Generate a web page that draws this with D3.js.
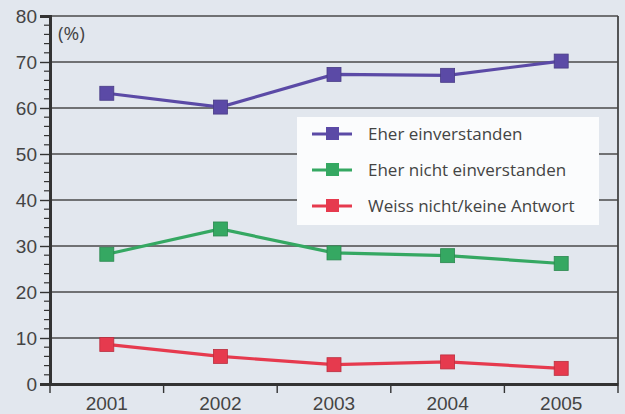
<!DOCTYPE html>
<html>
<head>
<meta charset="utf-8">
<script src="https://cdn.jsdelivr.net/npm/d3@7"></script>
<style>
  body { margin: 0; background: #e2e7ee; }
  svg { display: block; font-family: "Open Sans", "DejaVu Sans", sans-serif; }
</style>
</head>
<body>
<svg></svg>
<script>
var width = 625;
var height = 414;

var years = ["2001", "2002", "2003", "2004", "2005"];
var agree = [63.2, 60.2, 67.3, 67.1, 70.2];
var disagree = [28.2, 33.7, 28.5, 27.9, 26.2];
var dontKnow = [8.6, 6.0, 4.2, 4.8, 3.4];
var seriesNames = ["Eher einverstanden", "Eher nicht einverstanden", "Weiss nicht/keine Antwort"];
var seriesColors = ["#5b4aa6", "#35a862", "#e63a4e"];
var yTicks = [0, 10, 20, 30, 40, 50, 60, 70, 80];

var margin = { left: 50, right: 7, top: 16, bottom: 30 };

var svg = d3.select("svg")
  .attr("width", width)
  .attr("height", height);

var x = d3.scaleBand()
  .domain(years)
  .range([margin.left, width - margin.right]);

var y = d3.scaleLinear()
  .domain([0, 80])
  .range([height - margin.bottom, margin.top]);

var g = svg.append("g");

// grid lines
g.selectAll(".grid")
  .data(yTicks.filter(function (d) { return d > 0; }))
  .enter().append("line")
  .attr("x1", margin.left)
  .attr("x2", width - margin.right)
  .attr("y1", function (d) { return y(d); })
  .attr("y2", function (d) { return y(d); })
  .attr("stroke", "#4a4a4a")
  .attr("stroke-width", 1.3);

// right border
g.append("line")
  .attr("x1", width - margin.right).attr("x2", width - margin.right)
  .attr("y1", margin.top).attr("y2", y(0))
  .attr("stroke", "#444").attr("stroke-width", 1.8);

// minor ticks
var minor = d3.range(0, 81, 2).filter(function (d) { return d % 10 != 0; });
g.selectAll(".minor")
  .data(minor)
  .enter().append("line")
  .attr("x1", margin.left - 6)
  .attr("x2", margin.left)
  .attr("y1", function (d) { return y(d); })
  .attr("y2", function (d) { return y(d); })
  .attr("stroke", "#333")
  .attr("stroke-width", 1.2);

// y axis
var yAxis = g.append("g")
  .attr("transform", "translate(" + margin.left + ",0)")
  .call(d3.axisLeft(y).tickValues(yTicks).tickSize(10).tickPadding(3));
yAxis.select(".domain").attr("stroke", "#333").attr("stroke-width", 3);
yAxis.selectAll(".tick line").attr("stroke", "#333").attr("stroke-width", 1.4);
yAxis.selectAll("text").attr("fill", "#444").style("font-size", "19px");

// x axis
var xAxis = g.append("g")
  .attr("transform", "translate(0," + y(0) + ")")
  .call(d3.axisBottom(x).tickSize(0).tickPadding(13));
xAxis.select(".domain").attr("stroke", "#333").attr("stroke-width", 3);
xAxis.selectAll("text").attr("fill", "#444").style("font-size", "19px");

var bounds = years.map(function (d) { return x(d); }).concat([width - margin.right]);
g.selectAll(".xtick")
  .data(bounds)
  .enter().append("line")
  .attr("x1", function (d) { return d; })
  .attr("x2", function (d) { return d; })
  .attr("y1", y(0))
  .attr("y2", y(0) + 9)
  .attr("stroke", "#333")
  .attr("stroke-width", 1.4);

g.append("text")
  .attr("x", margin.left + 8)
  .attr("y", y(75) + 1)
  .attr("fill", "#444")
  .style("font-size", "19px")
  .text("(%)");

// legend
var lg = g.append("g").attr("transform", "translate(297,117)");
lg.append("rect")
  .attr("width", 302).attr("height", 108)
  .attr("fill", "#fbfcfd");

var allSeries = [agree, disagree, dontKnow];

allSeries.forEach(function (vals, i) {
  var line = d3.line()
    .x(function (d, j) { return x(years[j]) + x.bandwidth() / 2; })
    .y(function (d) { return y(d); });
  g.append("path")
    .datum(vals)
    .attr("d", line)
    .attr("fill", "none")
    .attr("stroke", seriesColors[i])
    .attr("stroke-width", 3.2);
  g.selectAll(".m" + i)
    .data(vals)
    .enter().append("rect")
    .attr("x", function (d, j) { return x(years[j]) + x.bandwidth() / 2 - 7; })
    .attr("y", function (d) { return y(d) - 7; })
    .attr("width", 14).attr("height", 14)
    .attr("fill", seriesColors[i])
    .attr("stroke", d3.rgb(seriesColors[i]).darker(0.6))
    .attr("stroke-width", 0.8);

  var ly = 17 + i * 36;
  lg.append("line")
    .attr("x1", 15).attr("x2", 55)
    .attr("y1", ly).attr("y2", ly)
    .attr("stroke", seriesColors[i]).attr("stroke-width", 3);
  lg.append("rect")
    .attr("x", 29).attr("y", ly - 7)
    .attr("width", 13).attr("height", 13)
    .attr("fill", seriesColors[i]);
  lg.append("text")
    .attr("x", 71).attr("y", ly + 6)
    .attr("fill", "#444")
    .style("font-size", "17px")
    .text(seriesNames[i]);
});
</script>
</body>
</html>
